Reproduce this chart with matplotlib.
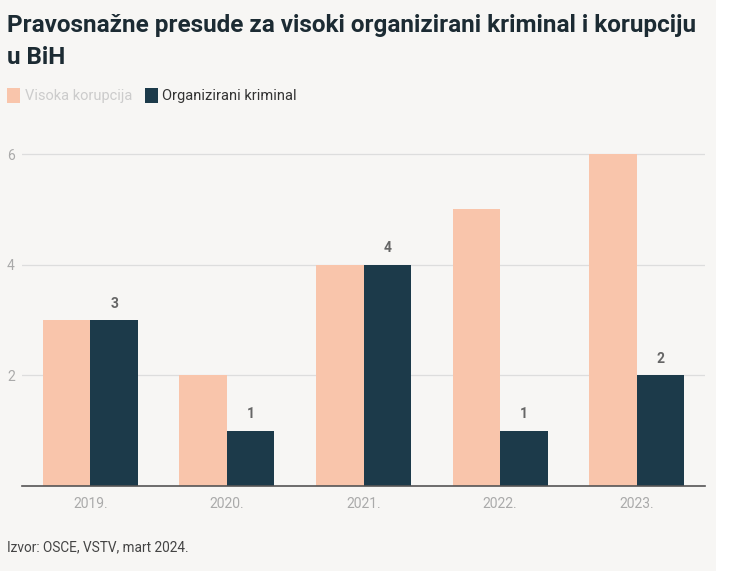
import matplotlib
matplotlib.use("Agg")
import matplotlib.pyplot as plt
from matplotlib.patches import Rectangle
import matplotlib.transforms as mtransforms
import numpy as np

years = ["2019.", "2020.", "2021.", "2022.", "2023."]
korupcija = [3, 2, 4, 5, 6]
kriminal = [3, 1, 4, 1, 2]
series_names = ["Visoka korupcija", "Organizirani kriminal"]
yticks = [2, 4, 6]

title = "Pravosnažne presude za visoki organizirani kriminal i korupciju\nu BiH"
source = "Izvor: OSCE, VSTV, mart 2024."

peach = "#f9c5ab"
dark = "#1c3a4a"
bg = "#f7f6f4"

plt.rcParams['font.family'] = ['Roboto', 'DejaVu Sans']

fig = plt.figure(figsize=(7.30, 5.71), dpi=100)
fig.patch.set_facecolor("white")
fig.add_artist(Rectangle((0, 0), 716 / 730, 1, transform=fig.transFigure,
                         facecolor=bg, edgecolor="none", zorder=-10))

ax = fig.add_axes([22 / 730, 1 - 486 / 571, 683 / 730, (486 - 137.4) / 571])
ax.set_facecolor("none")

x = np.arange(len(years))
w = 0.348
ax.bar(x - w / 2, korupcija, width=w, color=peach, zorder=3)
ax.bar(x + w / 2, kriminal, width=w, color=dark, zorder=3)
for xi, v in zip(x, kriminal):
    ax.text(xi + w / 2, v + 0.17, str(v), ha="center", va="bottom",
            fontsize=10, fontweight="bold", color="#666666", zorder=4)

ax.set_xlim(-0.5, len(years) - 0.5)
ax.set_ylim(0, 6.3)
ax.set_yticks(yticks)
ax.set_yticklabels([str(t) for t in yticks])
ax.set_xticks(x)
ax.set_xticklabels(years)
ax.grid(axis="y", color="#dddddd", linewidth=0.9, zorder=0)
for s in ["top", "right", "left"]:
    ax.spines[s].set_visible(False)
ax.spines["bottom"].set_color("#555555")
ax.spines["bottom"].set_linewidth(1.2)
ax.spines["bottom"].set_zorder(5)
ax.tick_params(axis="both", length=0, labelsize=10, labelcolor="#aaaaaa")
ax.tick_params(axis="x", pad=8)
ax.yaxis.set_tick_params(pad=0)
for lab in ax.get_yticklabels():
    lab.set_horizontalalignment("left")
    lab.set_transform(mtransforms.blended_transform_factory(fig.transFigure, ax.transData))
    lab.set_x(7 / 730)

fig.text(7 / 730, 1 - 14 / 571, title, ha="left", va="top", fontsize=17.5,
         fontweight="bold", color="#1c2b33", linespacing=1.5)

# legend
fig.add_artist(Rectangle((7 / 730, 1 - 103 / 571), 13 / 730, 15 / 571,
                         transform=fig.transFigure, facecolor=peach, edgecolor="none"))
fig.text(25 / 730, 1 - 96 / 571, series_names[0], ha="left", va="center",
         fontsize=10.5, color="#cccccc")
fig.add_artist(Rectangle((145 / 730, 1 - 103 / 571), 13 / 730, 15 / 571,
                         transform=fig.transFigure, facecolor=dark, edgecolor="none"))
fig.text(162 / 730, 1 - 96 / 571, series_names[1], ha="left", va="center",
         fontsize=10.5, color="#333333")

fig.text(7 / 730, 1 - 547 / 571, source, ha="left", va="center",
         fontsize=9.8, color="#444444")

fig.savefig("out.png", dpi=100, facecolor=fig.get_facecolor())
